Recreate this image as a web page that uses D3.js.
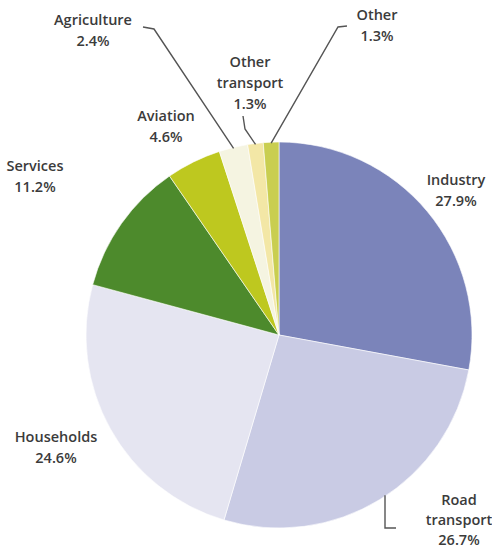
<!DOCTYPE html>
<html>
<head>
<meta charset="utf-8">
<script src="https://cdn.jsdelivr.net/npm/d3@7"></script>
<style>
  html, body { margin: 0; padding: 0; background: #fff; }
  svg { display: block; }
  text { font-family: "Open Sans", sans-serif; font-size: 14.5px; font-weight: 600; fill: #3b3b3b; }
</style>
</head>
<body>
<svg id="chart" width="492" height="551"></svg>
<script>
// Sector shares (%), clockwise from 12 o'clock
const categories = ["Industry", "Road transport", "Households", "Services", "Aviation", "Agriculture", "Other transport", "Other"];
const shares = [27.9, 26.7, 24.6, 11.2, 4.6, 2.4, 1.3, 1.3];
const labelLines = [["Industry"], ["Road", "transport"], ["Households"], ["Services"], ["Aviation"], ["Agriculture"], ["Other", "transport"], ["Other"]];

const colors = ["#7b84ba", "#c9cbe4", "#e5e5f1", "#4d8a2c", "#bec81f", "#f5f4e1", "#f3e7a6", "#c9ce50"];

// Layout
const cx = 279, cy = 335, R = 193;
const lineH = 21;
// label anchor (center x, first baseline y)
const labelAt = {
  "Industry": [456, 185],
  "Road transport": [459, 505],
  "Households": [56, 442],
  "Services": [35, 171],
  "Aviation": [166, 121],
  "Agriculture": [93, 25],
  "Other transport": [250, 67],
  "Other": [377, 20]
};
const labelLineH = { "Road transport": 20 };
// leader line elbows (from the slice edge outwards)
const leaders = {
  "Agriculture": [[154, 29], [143, 27]],
  "Other transport": [[245, 129], [243, 116]],
  "Other": [[338, 27], [347, 26]],
  "Road transport": [[385, 528], [396, 528]]
};

const svg = d3.select("#chart");
const g = svg.append("g").attr("transform", `translate(${cx},${cy})`);

const data = categories.map((c, i) => ({ name: c, value: shares[i], lines: labelLines[i], color: colors[i] }));

const pie = d3.pie().value(d => d.value).sort(null);
const arc = d3.arc().innerRadius(0).outerRadius(R);
const arcs = pie(data);

g.selectAll("path.slice")
  .data(arcs)
  .join("path")
  .attr("class", "slice")
  .attr("d", arc)
  .attr("fill", d => d.data.color)
  .attr("stroke", "#ffffff")
  .attr("stroke-width", 0.6);

// leader lines
const lineGen = d3.line();
arcs.forEach(a => {
  const pts = leaders[a.data.name];
  if (!pts) return;
  let start;
  if (a.data.name === "Road transport") {
    const x = pts[0][0] - cx;
    start = [x, Math.sqrt(R * R - x * x) - 1];
  } else {
    const m = (a.startAngle + a.endAngle) / 2;
    start = [Math.sin(m) * (R - 1), -Math.cos(m) * (R - 1)];
  }
  const all = [start].concat(pts.map(p => [p[0] - cx, p[1] - cy]));
  g.append("path")
    .attr("d", lineGen(all))
    .attr("fill", "none")
    .attr("stroke", "#555")
    .attr("stroke-width", 1.4);
});

// labels
const labels = svg.append("g");
data.forEach(d => {
  const [x, y] = labelAt[d.name];
  const lh = labelLineH[d.name] || lineH;
  const t = labels.append("text").attr("text-anchor", "middle").attr("x", x).attr("y", y);
  const rows = d.lines.concat([d3.format(".1f")(d.value) + "%"]);
  rows.forEach((r, i) => {
    t.append("tspan").attr("x", x).attr("y", y + i * lh).text(r);
  });
});
</script>
</body>
</html>
